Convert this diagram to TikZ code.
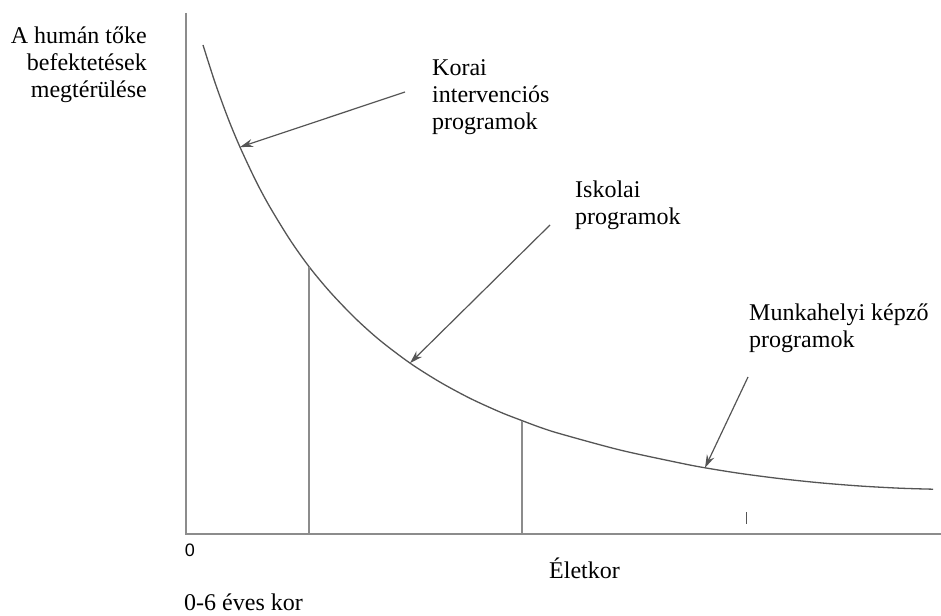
\documentclass[tikz,border=0pt]{standalone}
\usepackage{fontspec}
\setmainfont{Liberation Serif}
\newfontfamily\axisfont{Liberation Sans}
\usepackage{xcolor}
\usetikzlibrary{arrows.meta}

\definecolor{axisgray}{HTML}{8C8C8C}
\definecolor{curvegray}{HTML}{555555}

\begin{document}
\begin{tikzpicture}[
  x=1pt,y=-1pt,
  axis/.style={draw=axisgray,line width=1.6pt},
  drop/.style={draw=axisgray,line width=1.5pt},
  curve/.style={draw=curvegray,line width=1.3pt},
  arr/.style={-{Stealth[length=13pt,width=8pt]},draw=curvegray,line width=1.2pt},
  lbl/.style={font=\fontsize{24}{27}\selectfont,inner sep=0pt,align=left}
]
\useasboundingbox (0,0) rectangle (941,615);

% axes
\coordinate (orig) at (186,534);
\coordinate (ytop) at (186,13);
\coordinate (xend) at (941,534);
\draw[axis] (ytop) -- (orig) -- (xend);

% points of the curve
\coordinate (tipa) at (240,147.1);
\coordinate (c1) at (309,266.6);
\coordinate (tipb) at (410,363.1);
\coordinate (c2) at (522,420.6);
\coordinate (tipc) at (705,467.8);
\draw[curve] plot[smooth] coordinates
  {(203,45) (215,82.5) (228,118.2) (tipa) (256,181.2) (270,207.2)
   (290,239.8) (c1) (330,291.9) (355,318) (380,340.4) (tipb)
   (440,382.1) (470,398.3) (500,412) (c2) (540,427.3) (560,433.7)
   (620,450) (680,463) (tipc) (740,473.4) (780,478.6) (820,482.8)
   (860,486) (900,488.2) (933,489.2)};

% drop lines and tick
\coordinate (foota) at (309,534);
\coordinate (footb) at (522,534);
\draw[drop] (c1) -- (foota);
\draw[drop] (c2) -- (footb);
\coordinate (ticka) at (746,512);
\coordinate (tickb) at (746,524);
\draw[curvegray,line width=1pt] (ticka) -- (tickb);

% labels
\node[lbl,align=right,anchor=east] (ylab) at (147,65)
  {A humán tőke\\befektetések\\megtérülése};
\node[lbl,anchor=west] (korai) at (432,97)
  {Korai\\intervenciós\\programok};
\node[lbl,anchor=west] (iskola) at (575,205) {Iskolai\\programok};
\node[lbl,anchor=west] (munka) at (749,328) {Munkahelyi képző\\programok};
\node[font=\axisfont\fontsize{18}{20}\selectfont,inner sep=0pt] (zero) at (190,550) {0};
\node[lbl,anchor=west] (kor) at (549,568) {Életkor};
\node[lbl,anchor=west] (ovis) at (184,602) {0-6 éves kor};

% arrows
\coordinate (fa) at (405,92);
\coordinate (fb) at (550,225);
\coordinate (fc) at (748,377);
\draw[arr] (fa) -- (tipa);
\draw[arr] (fb) -- (tipb);
\draw[arr] (fc) -- (tipc);
\end{tikzpicture}
\end{document}
